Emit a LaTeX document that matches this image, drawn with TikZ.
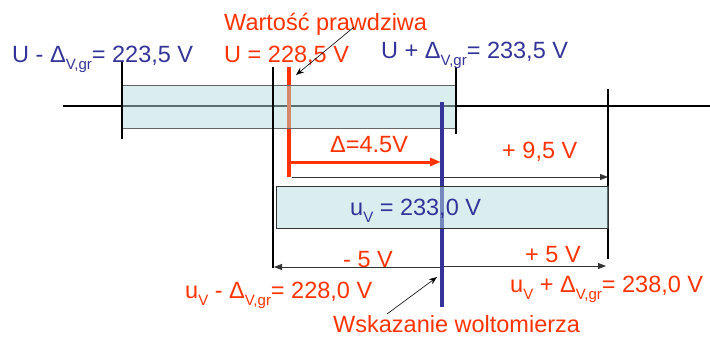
\documentclass[tikz,border=0pt]{standalone}
\usepackage{fontspec}
\setmainfont{Liberation Sans}
\usetikzlibrary{arrows.meta}
\definecolor{rd}{HTML}{FF3300}
\definecolor{bl}{HTML}{333399}
\definecolor{band}{HTML}{B5DDE1}
\newcommand\lowtxt[1]{\raisebox{-0.32em}{\fontsize{15}{15}\selectfont #1}}

\begin{document}
\begin{tikzpicture}[x=1pt, y=-1pt,
  font=\fontsize{23.5}{28}\selectfont, >={Triangle[length=8pt,width=6pt]},
  txt/.style={anchor=base west, inner sep=0pt},
  tick/.style={draw=black, line width=1.8pt},
  dim/.style={->, draw=black!80, line width=0.8pt},
  ptr/.style={-{Stealth[length=8pt,width=6pt]}, draw=black, line width=0.6pt},
  bandbox/.style={fill=band, fill opacity=0.5, draw=black!60, draw opacity=1, line width=1pt}]
\useasboundingbox (0,0) rectangle (710,338);
% axis and true value
\coordinate (ax0) at (63,106); \coordinate (ax1) at (710,106);
\draw[line width=1.5pt] (ax0) -- (ax1);
\coordinate (trueT) at (289,67); \coordinate (trueB) at (289,177);
\draw[rd, line width=4pt] (trueT) -- (trueB);
\path[bandbox] (122,85) rectangle (456,128);
% ticks
\coordinate (uloT) at (122,62); \coordinate (uloB) at (122,139);
\coordinate (uhiT) at (456,67); \coordinate (uhiB) at (456,134);
\coordinate (vhiT) at (608,89); \coordinate (vhiB) at (608,259);
\coordinate (vloT) at (273,67); \coordinate (vloB) at (273,268);
\draw[tick] (uloT) -- (uloB);
\draw[tick] (uhiT) -- (uhiB);
\draw[tick] (vhiT) -- (vhiB);
\draw[tick] (vloT) -- (vloB);
% error arrows
\coordinate (dA) at (289,162); \coordinate (dB) at (441,162);
\draw[rd, line width=3pt, -{Triangle[length=11pt,width=8pt]}] (dA) -- (dB);
\coordinate (nA) at (292,177); \coordinate (nB) at (608,177);
\draw[dim] (nA) -- (nB);
% reading
\coordinate (rdT) at (442,102); \coordinate (rdB) at (442,307);
\draw[bl, line width=4pt] (rdT) -- (rdB);
\path[bandbox, draw=black!80] (276,186) rectangle (608,228);
\coordinate (mA) at (440,267); \coordinate (mB) at (274,267);
\draw[dim] (mA) -- (mB);
\coordinate (pA) at (444,266); \coordinate (pB) at (606,266);
\draw[dim] (pA) -- (pB);
% labels
\node[txt, text=rd] (truelbl) at (224,30) {Wartość prawdziwa};
\node[txt, text=rd] (uval) at (224,62) {U = 228,5 V};
\node[txt, text=bl] (ulo) at (12,62) {U - Δ\lowtxt{V,gr}= 223,5 V};
\node[txt, text=bl] (uhi) at (381,58) {U + Δ\lowtxt{V,gr}= 233,5 V};
\node[txt, text=rd] (dlbl) at (330,152) {Δ=4.5V};
\node[txt, text=rd] (nlbl) at (502,158) {+ 9,5 V};
\node[txt, text=bl] (vval) at (350,215) {u\lowtxt{V} = 233,0 V};
\node[txt, text=rd] (mlbl) at (343,267) {- 5 V};
\node[txt, text=rd] (plbl) at (525,262) {+ 5 V};
\node[txt, text=rd] (vlo) at (185,298) {u\lowtxt{V} - Δ\lowtxt{V,gr}= 228,0 V};
\node[txt, text=rd] (vhi) at (510,292) {u\lowtxt{V} + Δ\lowtxt{V,gr}= 238,0 V};
\node[txt, text=rd] (rdlbl) at (333,332) {Wskazanie woltomierza};
% pointers
\coordinate (tp) at (296,75); \coordinate (rp) at (437,277);
\coordinate (tq) at (354,27); \coordinate (rq) at (387,314);
\draw[ptr] (tq) -- (tp);
\draw[ptr] (rq) -- (rp);
\end{tikzpicture}
\end{document}
